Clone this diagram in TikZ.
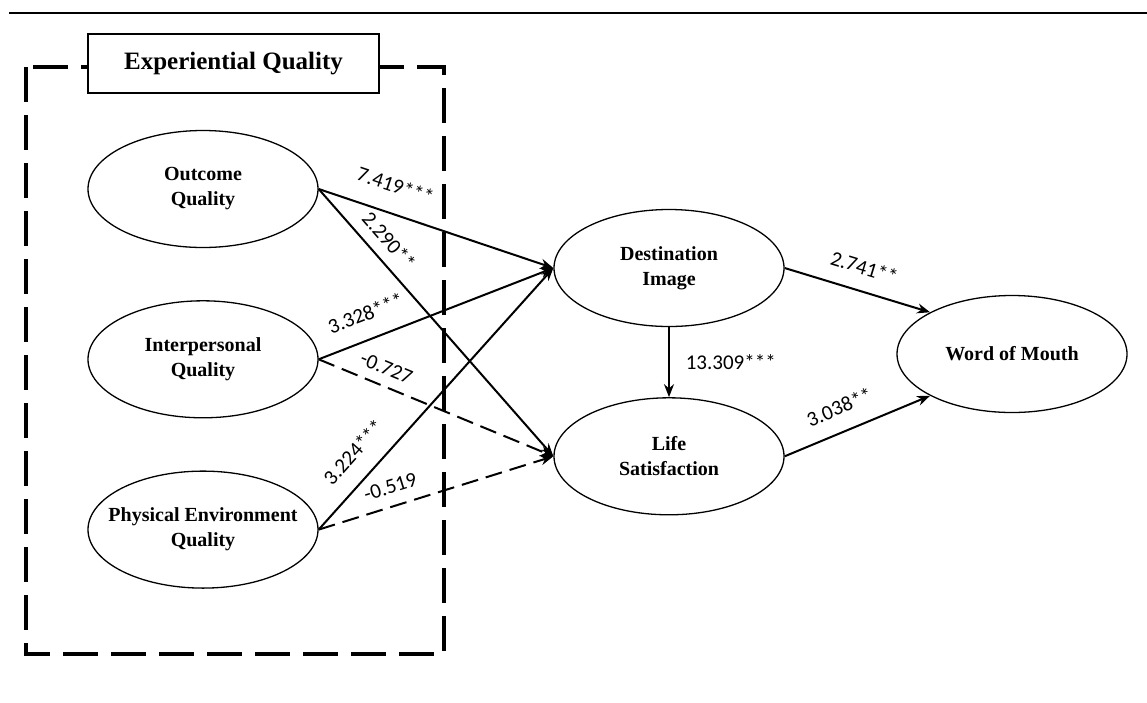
\documentclass[tikz,border=0pt]{standalone}
\usepackage{fontspec}
\setmainfont{Liberation Serif}
\newfontfamily\coeffont{Carlito}
\usepackage{tikz}
\usetikzlibrary{arrows.meta, positioning, shapes.geometric}

\begin{document}
\begin{tikzpicture}[x=1pt, y=-1pt, node distance=52pt,
    construct/.style={ellipse, draw, line width=1.3pt, minimum width=230pt, minimum height=117pt, inner sep=-20pt, align=center, font=\bfseries\fontsize{20}{25}\selectfont},
    effect/.style={line width=2pt, -{Stealth[length=13pt, width=10pt]}},
    weak/.style={effect, dash pattern=on 17pt off 8pt},
    coef/.style={font=\coeffont\fontsize{21}{21}\selectfont}]
        \useasboundingbox (0,0) rectangle (1147,702);
        \draw[line width=2pt] (9,13) -- (1147,13);

        % experiential quality block
        \draw[line width=4pt, dash pattern=on 35pt off 13pt] (26,67) rectangle (444,654);
        \node[draw, fill=white, line width=1.5pt, minimum width=291pt, minimum height=59pt, font=\bfseries\fontsize{25}{30}\selectfont] (eq) at (233.5,63.5) {Experiential Quality};

        \node[construct] (oq) at (203,189) {Outcome\\Quality};
        \node[construct] (iq) [below=of oq] {Interpersonal\\Quality};
        \node[construct] (pq) [below=of iq] {Physical Environment\\Quality};

        \node[construct] (dest) at (669,268) {Destination\\Image};
        \node[construct] (life) [below=70pt of dest] {Life\\Satisfaction};
        \node[construct] (wom) at (1012,354) {Word of Mouth};

        \draw[effect] (oq.east) -- (dest.west) node[coef, sloped, pos=0.29, above=16pt] {7.419***};
        \draw[effect] (oq.east) -- (life.west) node[coef, sloped, pos=0.24, above=7pt] {2.290**};
        \draw[effect] (iq.east) -- (dest.west) node[coef, sloped, pos=0.24, above=14pt] {3.328***};
        \draw[weak] (iq.east) -- (life.west) node[coef, sloped, pos=0.26, above=6.5pt] {-0.727};
        \draw[effect] (pq.east) -- (dest.west) node[coef, sloped, pos=0.23, above=14pt] {3.224***};
        \draw[weak] (pq.east) -- (life.west) node[coef, sloped, pos=0.33, above=8pt] {-0.519};

        \draw[effect] (dest) -- (life) node[coef, midway, right=12.5pt] {13.309***};
        \draw[effect] (dest.east) -- (wom.153) node[coef, sloped, midway, above=12pt] {2.741**};
        \draw[effect] (life.east) -- (wom.-153) node[coef, sloped, pos=0.44, above=12.5pt] {3.038**};
    \end{tikzpicture}
\end{document}
